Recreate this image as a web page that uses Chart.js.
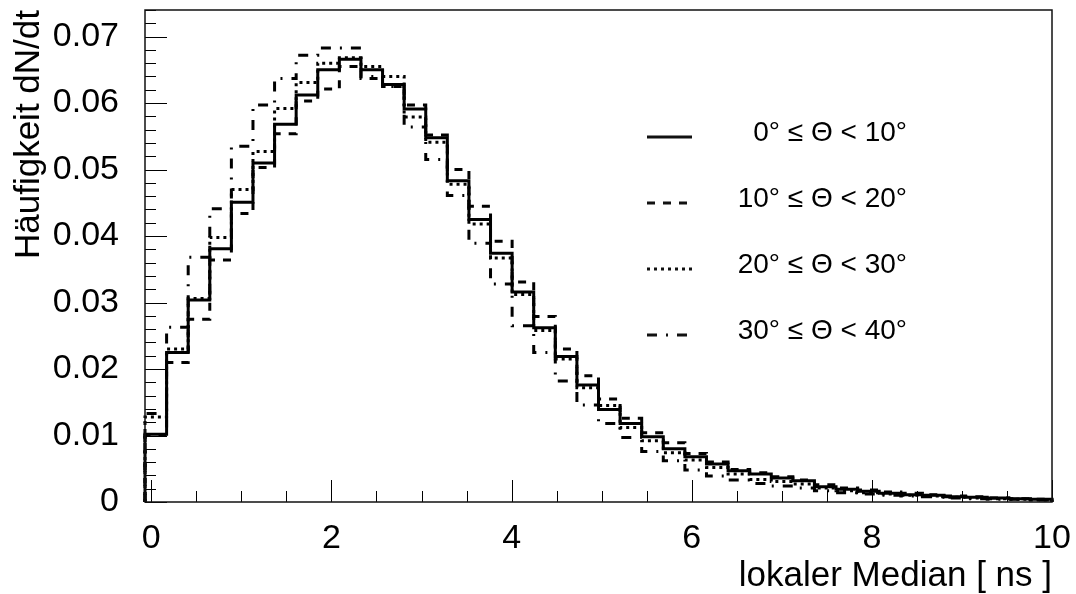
<!DOCTYPE html>
<html>
<head>
<meta charset="utf-8">
<script src="https://cdn.jsdelivr.net/npm/chart.js@4.4.0/dist/chart.umd.min.js"></script>
<style>
html, body { margin: 0; padding: 0; background: #fff; }
</style>
</head>
<body>
<canvas id="chartID" width="1076" height="594"></canvas>
<script>
// histogram binning, lokaler Median in ns
const binLow = -0.07
const binHigh = 10.0
const nBins = 42

const xTicks = [0, 2, 4, 6, 8, 10]
const yTicks = [0, 0.01, 0.02, 0.03, 0.04, 0.05, 0.06, 0.07]

const seriesLabels = ['0° ≤ Θ < 10°', '10° ≤ Θ < 20°', '20° ≤ Θ < 30°', '30° ≤ Θ < 40°']

// dN/dt per bin
const theta0 = [0.0102, 0.0225, 0.0304, 0.0381, 0.0451, 0.0510, 0.0568, 0.0612, 0.0650, 0.0666,
	0.0650, 0.0628, 0.0591, 0.0548, 0.0483, 0.0425, 0.0374, 0.0316, 0.0262, 0.0219,
	0.0176, 0.0139, 0.0118, 0.0098, 0.0080, 0.0068, 0.0057, 0.0047, 0.0042, 0.0036,
	0.0032, 0.0023, 0.0019, 0.0016, 0.0013, 0.0011, 0.0010, 0.0008, 0.0007, 0.0006,
	0.0005, 0.0004]
const theta10 = [0.0100, 0.0210, 0.0275, 0.0364, 0.0434, 0.0503, 0.0554, 0.0603, 0.0621, 0.0655,
	0.0637, 0.0625, 0.0597, 0.0552, 0.0500, 0.0445, 0.0392, 0.0331, 0.0279, 0.0230,
	0.0190, 0.0155, 0.0126, 0.0104, 0.0089, 0.0073, 0.0060, 0.0049, 0.0044, 0.0038,
	0.0033, 0.0026, 0.0021, 0.0018, 0.0015, 0.0013, 0.0011, 0.0009, 0.0008, 0.0006,
	0.0005, 0.0004]
const theta20 = [0.0128, 0.0230, 0.0306, 0.0398, 0.0470, 0.0527, 0.0592, 0.0631, 0.0660, 0.0668,
	0.0655, 0.0640, 0.0579, 0.0541, 0.0478, 0.0418, 0.0367, 0.0312, 0.0258, 0.0215,
	0.0172, 0.0145, 0.0112, 0.0092, 0.0074, 0.0063, 0.0052, 0.0042, 0.0034, 0.0031,
	0.0027, 0.0021, 0.0017, 0.0014, 0.0012, 0.0010, 0.0009, 0.0007, 0.0006, 0.0005,
	0.0004, 0.0003]
const theta30 = [0.0133, 0.0263, 0.0368, 0.0441, 0.0535, 0.0597, 0.0637, 0.0672, 0.0683, 0.0683,
	0.0640, 0.0625, 0.0564, 0.0515, 0.0461, 0.0389, 0.0328, 0.0265, 0.0225, 0.0182,
	0.0146, 0.0118, 0.0097, 0.0076, 0.0062, 0.0048, 0.0039, 0.0033, 0.0028, 0.0024,
	0.0021, 0.0017, 0.0014, 0.0012, 0.0010, 0.0009, 0.0008, 0.0006, 0.0005, 0.0004,
	0.0004, 0.0003]

const fontFamily = '"Liberation Sans", Arial, Helvetica, sans-serif'

// turn bin contents into an outline (ROOT style, down to 0 at both ends)
function histPoints(values) {
	const w = (binHigh - binLow) / nBins
	let pts = [{ x: binLow, y: 0 }]
	values.forEach(function(v, i) {
		pts.push({ x: binLow + i * w, y: v })
	})
	pts.push({ x: binHigh, y: values[values.length - 1] })
	pts.push({ x: binHigh, y: 0 })
	return pts
}

function lineSet(label, values, dash) {
	return {
		label: label,
		data: histPoints(values),
		stepped: 'before',
		borderColor: '#000',
		borderWidth: 3,
		borderDash: dash,
		borderCapStyle: 'butt',
		borderJoinStyle: 'miter',
		pointRadius: 0,
		fill: false,
		clip: 6,
	}
}

// frame, inward ticks, axis titles and legend, drawn like ROOT does
const rootStyle = {
	id: 'rootStyle',
	afterDraw: function(chart) {
		const ctx = chart.ctx
		const area = chart.chartArea
		const xs = chart.scales.x
		const ys = chart.scales.y
		ctx.save()
		ctx.strokeStyle = '#000'
		ctx.lineWidth = 1
		ctx.setLineDash([])
		ctx.beginPath()
		// y ticks every 0.002, long ones every 0.01
		for (let k = 0; k * 0.002 <= ys.max + 1e-9; k++) {
			const py = Math.round(ys.getPixelForValue(k * 0.002)) + 0.5
			const len = k % 5 === 0 ? 22 : 11
			ctx.moveTo(area.left, py)
			ctx.lineTo(area.left + len, py)
		}
		// x ticks every 0.5, long ones every 2
		for (let k = 0; k * 0.5 <= xs.max + 1e-9; k++) {
			const px = Math.round(xs.getPixelForValue(k * 0.5)) + 0.5
			const len = k % 4 === 0 ? 22 : 11
			ctx.moveTo(px, area.bottom)
			ctx.lineTo(px, area.bottom - len)
		}
		ctx.stroke()

		ctx.lineWidth = 1.5
		ctx.strokeStyle = '#111'
		ctx.strokeRect(area.left, area.top, area.right - area.left, area.bottom - area.top)

		// axis titles
		ctx.fillStyle = '#000'
		ctx.font = '35px ' + fontFamily
		ctx.textAlign = 'right'
		ctx.textBaseline = 'alphabetic'
		ctx.fillText('lokaler Median [ ns ]', area.right, 586)
		ctx.save()
		ctx.translate(39, area.top)
		ctx.rotate(-Math.PI / 2)
		ctx.fillText('Häufigkeit dN/dt', 0, 0)
		ctx.restore()

		// legend
		ctx.font = '28px ' + fontFamily
		ctx.textBaseline = 'middle'
		chart.data.datasets.forEach(function(ds, i) {
			const ly = 137 + i * 66
			ctx.beginPath()
			ctx.lineWidth = ds.borderWidth
			ctx.setLineDash(ds.borderDash || [])
			ctx.moveTo(647, ly)
			ctx.lineTo(692, ly)
			ctx.stroke()
			ctx.setLineDash([])
			ctx.fillText(ds.label, 907, ly - 4)
		})
		ctx.restore()
	}
}

window.onload = function() {
	let chartCtx = document.getElementById('chartID').getContext('2d')
	window.histChart = new Chart(chartCtx, {
		type: 'line',
		data: {
			datasets: [
				lineSet(seriesLabels[0], theta0, []),
				lineSet(seriesLabels[1], theta10, [8, 8]),
				lineSet(seriesLabels[2], theta20, [3, 4]),
				lineSet(seriesLabels[3], theta30, [10, 9, 2, 9]),
			],
		},
		options: {
			responsive: false,
			animation: false,
			devicePixelRatio: 1,
			layout: { padding: { top: 10, right: 24, left: 0, bottom: 0 } },
			plugins: {
				legend: { display: false },
				tooltip: { enabled: false },
			},
			scales: {
				x: {
					type: 'linear',
					min: binLow,
					max: binHigh,
					afterBuildTicks: function(s) { s.ticks = xTicks.map(function(v) { return { value: v } }) },
					afterFit: function(s) {
						s.height = 92
						s.paddingLeft = 0
						s.paddingRight = 0
					},
					grid: { display: false, drawTicks: false },
					border: { display: false },
					ticks: {
						color: '#000',
						font: { family: fontFamily, size: 34 },
						padding: 16,
						maxRotation: 0,
						autoSkip: false,
						callback: function(v) { return String(v) },
					},
				},
				y: {
					min: 0,
					max: 0.074,
					afterBuildTicks: function(s) { s.ticks = yTicks.map(function(v) { return { value: v } }) },
					afterFit: function(s) {
						s.width = 145
						s.paddingTop = 0
						s.paddingBottom = 0
					},
					grid: { display: false, drawTicks: false },
					border: { display: false },
					ticks: {
						color: '#000',
						font: { family: fontFamily, size: 34 },
						padding: 26,
						autoSkip: false,
						callback: function(v) { return v === 0 ? '0' : v.toFixed(2) },
					},
				},
			},
		},
		plugins: [rootStyle],
	})
}
</script>
</body>
</html>
